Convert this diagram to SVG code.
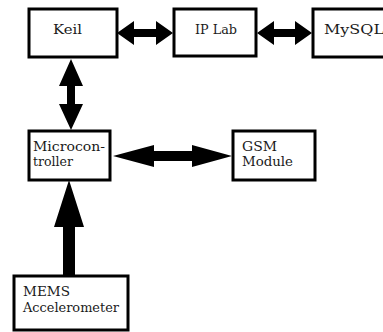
<svg xmlns="http://www.w3.org/2000/svg" width="383" height="332" viewBox="0 0 383 332">
<style>
.box{fill:#fff;stroke:#000;stroke-width:3}
.t{font-family:"DejaVu Serif","Liberation Serif",serif;font-size:12px;fill:#1a1a1a}
.a{fill:#000}
</style>
<rect width="383" height="332" fill="#fff"/>
<g id="connectors">
<polygon class="a" points="117,33 134,21 134,29 156,29 156,21 173,33 156,45 156,37 134,37 134,45"/>
<polygon class="a" points="257,33 274,21 274,29 295,29 295,21 312,33 295,45 295,37 274,37 274,45"/>
<polygon class="a" points="71,59 83,86 75,86 75,104 83,104 71,130 59,104 67,104 67,86 59,86"/>
<polygon class="a" points="113,156 154,145 154,151 192,151 192,145 232,156 192,167 192,161 154,161 154,167"/>
<polygon class="a" points="69,180 84,227 75,227 75,276 63,276 63,227 54,227"/>
</g>
<g id="keil"><rect class="box" x="29" y="9" width="88" height="48"/><text class="t" x="53" y="34" textLength="29" lengthAdjust="spacingAndGlyphs">Keil</text></g>
<g id="iplab"><rect class="box" x="174" y="9" width="82" height="47"/><text class="t" x="195" y="34" textLength="42" lengthAdjust="spacingAndGlyphs">IP Lab</text></g>
<g id="mysql"><rect class="box" x="313" y="9" width="90" height="48"/><text class="t" x="324" y="34" textLength="60" lengthAdjust="spacingAndGlyphs">MySQL</text></g>
<g id="micro"><rect class="box" x="29" y="131" width="81" height="49"/><text class="t" x="33" y="151" textLength="72" lengthAdjust="spacingAndGlyphs">Microcon-</text><text class="t" x="33" y="166" textLength="40" lengthAdjust="spacingAndGlyphs">troller</text></g>
<g id="gsm"><rect class="box" x="233" y="131" width="82" height="49"/><text class="t" x="242" y="151" textLength="35" lengthAdjust="spacingAndGlyphs">GSM</text><text class="t" x="242" y="166" textLength="51" lengthAdjust="spacingAndGlyphs">Module</text></g>
<g id="mems"><rect class="box" x="14" y="276" width="114" height="54"/><text class="t" x="23" y="296" textLength="47" lengthAdjust="spacingAndGlyphs">MEMS</text><text class="t" x="23" y="312" textLength="96" lengthAdjust="spacingAndGlyphs">Accelerometer</text></g>
</svg>
